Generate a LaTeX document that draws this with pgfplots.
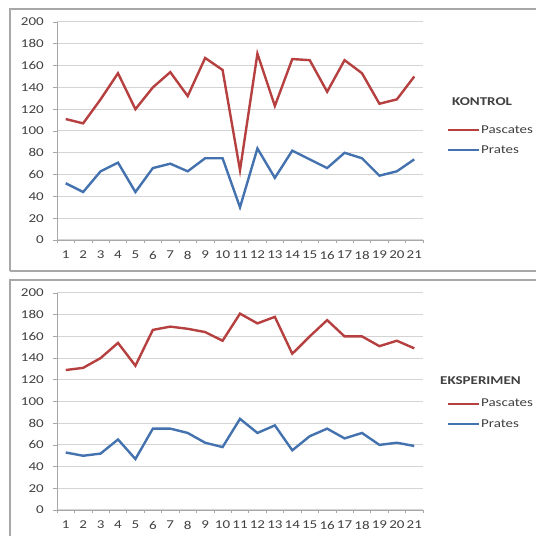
\documentclass[border=0pt]{standalone}
\usepackage{pgfplots}
\pgfplotsset{compat=1.18}
\usepackage{pgfplotstable}
\usepackage{fontspec}
\setmainfont[FakeStretch=1.25]{Carlito}
\definecolor{redl}{HTML}{B5403F}
\definecolor{bluel}{HTML}{4372AE}
\definecolor{txt}{HTML}{404040}
\definecolor{gridc}{HTML}{D4D4D4}
\definecolor{framec}{HTML}{A8A8A8}

\pgfplotstableread{
x pas pra
1 111 52
2 107 44
3 129 63
4 153 71
5 120 44
6 140 66
7 154 70
8 132 63
9 167 75
10 156 75
11 64 30
12 171 84
13 123 57
14 166 82
15 165 74
16 136 66
17 165 80
18 153 75
19 125 59
20 129 63
21 150 74
}\kontrol

\pgfplotstableread{
x pas pra
1 129 53
2 131 50
3 140 52
4 154 65
5 133 47
6 166 75
7 169 75
8 167 71
9 164 62
10 156 58
11 181 84
12 172 71
13 178 78
14 144 55
15 160 68
16 175 75
17 160 66
18 160 71
19 151 60
20 156 62
21 149 59
}\eksperimen

\pgfplotsset{
  mychart/.style={
    scale only axis,
    width=366pt,
    anchor=origin,
    xmin=0.5, xmax=21.5,
    ymin=0, ymax=200,
    ytick={0,20,...,200},
    xtick={1,...,21},
    minor xtick={0.5,1.5,...,21.5},
    axis lines=left,
    axis line style={-, draw=framec, line width=0.9pt},
    tick align=outside,
    major tick length=4pt,
    minor tick length=3pt,
    xtick style={draw=none},
    minor x tick style={draw=framec, line width=0.6pt},
    ytick style={draw=framec, line width=0.6pt},
    ymajorgrids,
    grid style={draw=gridc, line width=1pt},
    tick label style={font=\fontsize{12}{14}\selectfont, text=txt, inner sep=0pt},
    yticklabel style={anchor=east, xshift=-9pt},
    xticklabel style={anchor=north, yshift=-7pt},
    /pgf/number format/assume math mode=true,
    legend style={draw=none, fill=none, inner sep=0pt, row sep=8pt,
      font=\fontsize{12}{14}\selectfont, text=txt,
      nodes={inner sep=0.5pt, text height=8.5pt, text depth=2.5pt}},
    legend cell align=left,
    legend image code/.code={\draw[#1, line width=2.4pt] (0pt,0pt) -- (31pt,0pt);},
    clip=false,
  }
}

\begin{document}
\begin{tikzpicture}[x=1pt,y=1pt]
\useasboundingbox (0,0) rectangle (536,536);
% frames
\draw[framec, line width=1.2pt] (10,265) -- (10,527) -- (545,527);
\draw[framec, line width=1.2pt] (545,265) -- (10,265);
\draw[framec, line width=1.2pt] (10,-10) -- (10,256) -- (545,256);

\begin{axis}[mychart, height=218pt, at={(57pt,296pt)},
  legend style={at={(rel axis cs:1.0656,0.4587)}, anchor=west}]
\addplot[redl, line width=2.4pt] table[x=x,y=pas] {\kontrol};
\addlegendentry{Pascates}
\addplot[bluel, line width=2.4pt] table[x=x,y=pra] {\kontrol};
\addlegendentry{Prates}
\end{axis}
\node[anchor=west, inner sep=0pt, text=txt, font=\bfseries\fontsize{12}{14}\selectfont] at (452,434) {KONTROL};

\begin{axis}[mychart, height=217pt, at={(57pt,26pt)},
  legend style={at={(rel axis cs:1.0656,0.4424)}, anchor=west}]
\addplot[redl, line width=2.4pt] table[x=x,y=pas] {\eksperimen};
\addlegendentry{Pascates}
\addplot[bluel, line width=2.4pt] table[x=x,y=pra] {\eksperimen};
\addlegendentry{Prates}
\end{axis}
\node[anchor=west, inner sep=0pt, text=txt, font=\bfseries\fontsize{12}{14}\selectfont] at (440,155) {EKSPERIMEN};
\end{tikzpicture}
\end{document}
